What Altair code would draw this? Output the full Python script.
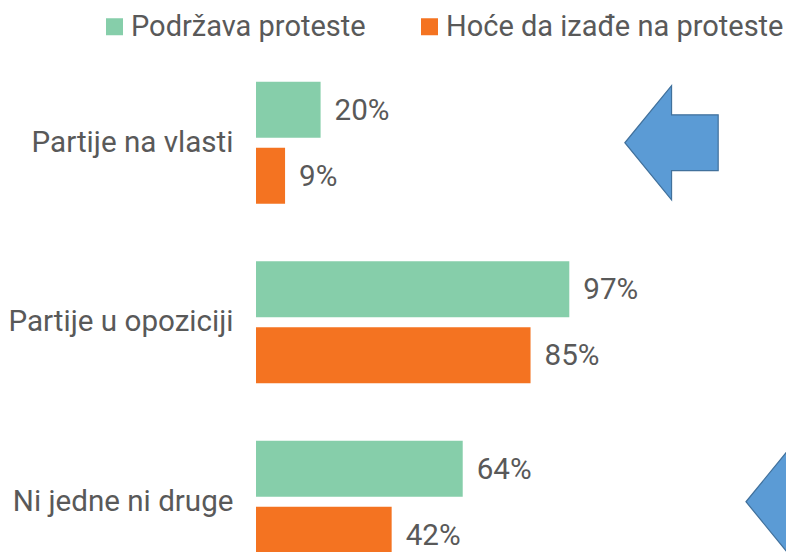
import altair as alt
import pandas as pd

categories = ["Partije na vlasti", "Partije u opoziciji", "Ni jedne ni druge"]
series = ["Podržava proteste", "Hoće da izađe na proteste"]
supports = [20, 97, 64]
will_attend = [9, 85, 42]
colors = ["#86CEAA", "#F47321"]

arrow_cats = ["Partije na vlasti", "Ni jedne ni druge"]
arrow_x = [114.2, 151.7]

rows = []
for c, a, b in zip(categories, supports, will_attend):
    rows.append({"cat": c, "series": series[0], "value": a, "label": f"{a}%"})
    rows.append({"cat": c, "series": series[1], "value": b, "label": f"{b}%"})
df = pd.DataFrame(rows)
arrows = pd.DataFrame({"cat": arrow_cats, "value": arrow_x})

TEXT = "#595959"
FONT = "Roboto"
FS = 29.6

y_enc = alt.Y(
    "cat:N",
    sort=categories,
    scale=alt.Scale(domain=categories, range=[0, 538.5], paddingInner=0.32, paddingOuter=0.16),
    axis=alt.Axis(title=None, domain=False, ticks=False, labelFontSize=FS, labelFont=FONT,
                  labelColor=TEXT, labelPadding=23, labelLimit=500, grid=False),
)
x_enc = alt.X("value:Q", scale=alt.Scale(domain=[0, 164.09], nice=False, zero=True), axis=None)
yoff = alt.YOffset("series:N", sort=series,
                   scale=alt.Scale(domain=series, paddingInner=0.152, paddingOuter=0))

bars = alt.Chart(df).mark_bar().encode(
    y=y_enc,
    x=x_enc,
    yOffset=yoff,
    color=alt.Color(
        "series:N",
        sort=series,
        scale=alt.Scale(domain=series, range=colors),
        legend=alt.Legend(orient="none", legendX=-156, legendY=-41, direction="horizontal",
                          title=None, symbolType="square", symbolSize=289, symbolStrokeWidth=0,
                          symbolOpacity=1, labelFontSize=29, labelFont=FONT, labelColor=TEXT,
                          labelOffset=2, columnPadding=49, padding=0, labelLimit=600),
    ),
)

labels = alt.Chart(df).mark_text(align="left", baseline="middle", dx=14, dy=1,
                                 fontSize=FS, font=FONT, color=TEXT).encode(
    y=y_enc, x=x_enc, yOffset=yoff, text="label:N"
)

arrow_path = "M0,0 L0.817,-1 L0.817,-0.488 L1.633,-0.488 L1.633,0.488 L0.817,0.488 L0.817,1 Z"
arrow_layer = alt.Chart(arrows).mark_point(
    shape=arrow_path, size=13064, filled=True, fill="#5B9BD5", stroke="#41719C",
    strokeWidth=1.2, opacity=1
).encode(y=y_enc, x=x_enc)

chart = alt.layer(bars, labels, arrow_layer).properties(
    width=530, height=499,
    padding={"left": 248, "top": 45, "right": 0, "bottom": 0},
    autosize="none",
).configure_view(stroke=None)

chart.save("out.html", embed_options={"renderer": "svg", "actions": False})
